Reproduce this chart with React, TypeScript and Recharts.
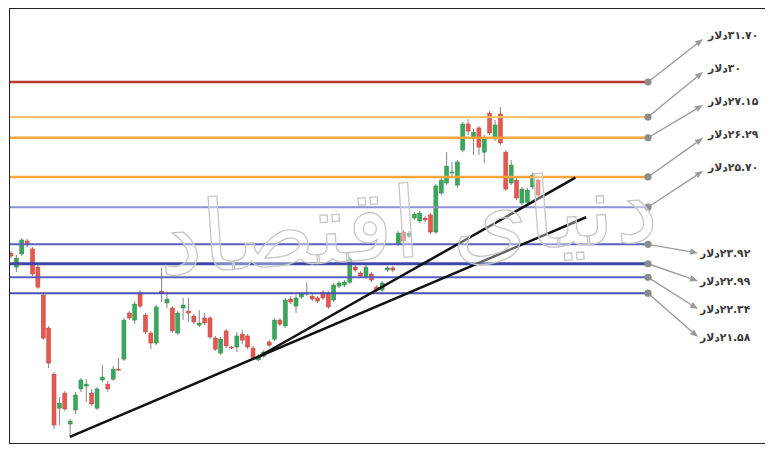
import React from "react";
import { ComposedChart, Bar, XAxis, YAxis, ReferenceLine } from "recharts";

// daily candles, USD
const opens = [
  23.5, 22.83, 23.46, 24.08, 23.7, 22.83, 21.49, 19.91, 17.7, 16.07,
  16.79, 15.31, 15.98, 16.99, 17.13, 16.79, 16.07, 17.42, 17.22, 17.46,
  17.94, 18.42, 20.63, 20.29, 21.59, 20.53, 19.67, 19.19, 21.68, 21.11,
  20.87, 19.67, 20.87, 20.72, 20.48, 20.05, 20.39, 20.39, 19.43, 18.71,
  19.77, 19.0, 19.0, 19.62, 19.53, 18.95, 18.38, 18.57, 19.24, 19.38,
  20.29, 20.01, 21.3, 20.96, 21.4, 21.54, 21.44, 21.35, 21.63, 21.59,
  21.25, 21.92, 21.97, 22.11, 22.83, 22.55, 22.35, 22.5, 21.87, 21.73,
  22.69, 22.79, 23.94, 24.51, 24.32, 25.18, 25.04, 25.18, 25.33, 24.51,
  26.38, 26.86, 27.34, 26.76, 28.44, 29.69, 29.02, 29.5, 28.34, 30.21,
  28.97, 30.17, 28.34, 26.86, 27.0, 25.9, 25.94, 26.67, 27.0,
];
const highs = [
  23.6, 23.41, 24.22, 24.18, 23.79, 22.93, 21.59, 20.01, 17.8, 16.6,
  16.89, 15.55, 16.84, 17.51, 17.46, 16.99, 17.08, 18.14, 17.37, 18.09,
  18.47, 20.39, 20.72, 21.2, 21.73, 20.63, 19.77, 21.01, 22.79, 21.63,
  20.96, 20.72, 21.35, 21.35, 20.58, 20.77, 20.63, 20.48, 19.53, 19.48,
  19.86, 19.05, 19.72, 19.81, 19.62, 19.05, 18.66, 18.85, 19.33, 20.39,
  20.39, 21.35, 21.44, 21.49, 21.63, 22.11, 21.54, 21.44, 21.73, 21.68,
  22.07, 22.16, 22.21, 23.31, 22.93, 22.64, 22.93, 22.59, 21.97, 22.16,
  22.88, 22.88, 24.56, 24.61, 24.56, 25.47, 25.52, 25.28, 25.42, 26.81,
  27.1, 28.34, 27.87, 27.96, 29.78, 29.93, 29.45, 29.59, 29.16, 30.31,
  29.88, 30.5, 28.44, 27.96, 27.1, 26.67, 26.62, 27.34, 27.1,
];
const lows = [
  23.26, 22.59, 23.36, 23.79, 22.4, 21.78, 19.33, 17.99, 15.07, 15.26,
  15.93, 14.69, 15.79, 16.84, 16.36, 16.17, 15.98, 17.32, 16.84, 17.37,
  17.85, 18.33, 20.29, 20.1, 20.87, 19.62, 18.9, 19.09, 21.16, 20.87,
  19.67, 19.57, 20.29, 20.2, 20.1, 19.96, 20.05, 19.38, 18.81, 18.62,
  18.95, 18.9, 18.76, 19.14, 18.9, 18.38, 18.33, 18.47, 19.0, 19.29,
  20.01, 19.91, 21.06, 20.63, 21.3, 21.44, 21.2, 21.11, 21.25, 20.82,
  21.16, 21.83, 21.87, 22.02, 22.59, 22.31, 22.26, 22.11, 21.63, 21.63,
  22.59, 22.59, 23.84, 23.98, 24.22, 25.09, 24.94, 24.99, 24.41, 24.41,
  26.28, 26.76, 27.1, 26.62, 28.34, 29.16, 28.2, 28.2, 27.82, 29.16,
  28.87, 28.68, 26.48, 26.76, 26.04, 25.8, 25.85, 26.57, 26.19,
];
const closes = [
  23.36, 23.26, 24.13, 23.89, 22.5, 21.87, 19.43, 18.23, 15.26, 16.31,
  16.03, 15.45, 16.7, 17.42, 17.22, 16.27, 16.99, 17.56, 16.99, 17.94,
  17.9, 20.29, 20.39, 21.06, 20.96, 19.72, 19.19, 20.92, 21.59, 21.3,
  19.77, 20.63, 21.01, 20.63, 20.2, 20.15, 20.15, 19.48, 18.9, 19.38,
  19.05, 18.95, 19.53, 19.33, 19.0, 18.47, 18.57, 18.76, 19.09, 20.29,
  20.1, 21.25, 21.16, 21.35, 21.54, 21.59, 21.3, 21.2, 21.35, 20.92,
  21.97, 22.07, 22.11, 23.22, 22.69, 22.4, 22.83, 22.21, 21.73, 22.07,
  22.79, 22.69, 24.46, 24.08, 24.46, 25.37, 25.42, 25.09, 24.51, 26.72,
  27.0, 27.67, 27.39, 27.87, 29.69, 29.35, 29.3, 28.58, 28.97, 29.26,
  29.64, 28.78, 26.57, 27.72, 26.14, 26.57, 26.52, 27.24, 26.28,
];

// empty slots to the right of the last candle
const slotCount = 119;

const levels = [31.7, 30.02, 29.03, 27.15, 25.7, 23.92, 22.99, 22.34, 21.58];
const levelLabels = [
  "۳۱.۷۰دلار",
  "۳۰دلار",
  "۲۷.۱۵دلار",
  "۲۶.۲۹دلار",
  "۲۵.۷۰دلار",
  "۲۳.۹۲دلار",
  "۲۲.۹۹دلار",
  "۲۲.۳۴دلار",
  "۲۱.۵۸دلار",
];
const levelColors = ["#b83a2e", "#fdc06c", "#f9a43c", "#f9a43c", "#8e91d4", "#5a60bf", "#3e46a8", "#5a60bf", "#4a51b4"];
const levelWidths = [2.5, 2, 2.5, 2.5, 2, 2, 3, 2, 2];

// trend lines: [slot, price]
const trendLow = [[11, 14.69], [107, 25.22]];
const trendHigh = [[46, 18.52], [105, 27.12]];

const watermark = "دنیای اقتصاد";

const GREEN = "#3aa85c";
const GREEN_EDGE = "#2b8a48";
const RED = "#e4584f";
const RED_EDGE = "#c2433b";

const data = Array.from({ length: slotCount }, (_, i) =>
  i < opens.length
    ? { i, open: opens[i], high: highs[i], low: lows[i], close: closes[i], range: [lows[i], highs[i]] }
    : { i, range: null }
);

const Candle = (props: any) => {
  const { x, y, width, height, payload } = props;
  if (!payload || payload.open == null || !isFinite(y) || !isFinite(height)) return null;
  const { open, close, high, low } = payload;
  const top = Math.min(y, y + height);
  const h = Math.abs(height);
  const toY = (v: number) => top + ((high - v) / (high - low)) * h;
  const up = close >= open;
  const bodyTop = toY(Math.max(open, close));
  const bodyH = Math.max(1, toY(Math.min(open, close)) - bodyTop);
  const cx = x + width / 2;
  return (
    <g>
      <line x1={cx} x2={cx} y1={top} y2={top + h} stroke="#858585" strokeWidth={1} />
      <rect
        x={x}
        y={bodyTop}
        width={width}
        height={bodyH}
        fill={up ? GREEN : RED}
        stroke={up ? GREEN_EDGE : RED_EDGE}
        strokeWidth={0.5}
      />
    </g>
  );
};

// dot at the end of a level, arrow to its price tag
const levelTag = (k: number) => (props: any) => {
  const vb = props.viewBox;
  if (!vb) return null;
  const x0 = vb.x + vb.width;
  const y0 = vb.y;
  const upper = k < 5;
  const j = upper ? k : k - 5;
  const ty = upper ? 26 + 33 * j : 244 + 28 * j;
  const tx = upper ? 700 : 692;
  const ax = upper ? 695 : 690;
  const ay = upper ? ty + 4 : ty;
  const dx = ax - x0;
  const dy = ay - y0;
  const len = Math.sqrt(dx * dx + dy * dy);
  const ux = dx / len;
  const uy = dy / len;
  const hl = 8;
  const hw = 3.2;
  const bx = ax - ux * hl;
  const by = ay - uy * hl;
  const head = `${ax},${ay} ${bx - uy * hw},${by + ux * hw} ${bx + uy * hw},${by - ux * hw}`;
  return (
    <g>
      <line x1={x0} y1={y0} x2={bx} y2={by} stroke="#9b9b9b" strokeWidth={1.4} />
      <polygon points={head} fill="#9b9b9b" />
      <circle cx={x0} cy={y0} r={3.6} fill="#8c8c8c" />
      <text
        x={tx}
        y={ty}
        dy="0.36em"
        fontFamily="DejaVu Sans"
        fontSize={10.8}
        fontWeight="bold"
        fill="#3a3a3a"
      >
        {"\u200F" + levelLabels[k]}
      </text>
    </g>
  );
};

export default function App() {
  return (
    <div
      style={{
        position: "relative",
        width: 757,
        height: 436,
        marginLeft: 1,
        border: "1px solid #222",
        boxSizing: "border-box",
        overflow: "hidden",
        background: "#fff",
      }}
    >
      <div style={{ position: "absolute", left: -2, top: 0 }}>
        <ComposedChart width={757} height={434} data={data} margin={{ top: 0, right: 117, bottom: 0, left: 0 }}>
          <XAxis dataKey="i" type="category" hide />
          <YAxis type="number" domain={[14.4, 35.2]} allowDataOverflow hide />
          {levels.map((v, k) => (
            <ReferenceLine
              key={k}
              y={v}
              stroke={levelColors[k]}
              strokeWidth={levelWidths[k]}
              label={levelTag(k)}
            />
          ))}
          <Bar dataKey="range" barSize={4} shape={Candle} isAnimationActive={false} />
          <ReferenceLine
            segment={trendLow.map(([x, y]) => ({ x, y }))}
            stroke="#111"
            strokeWidth={2.5}
            ifOverflow="visible"
          />
          <ReferenceLine
            segment={trendHigh.map(([x, y]) => ({ x, y }))}
            stroke="#111"
            strokeWidth={2.5}
            ifOverflow="visible"
          />
        </ComposedChart>
        <svg
          width={757}
          height={434}
          style={{ position: "absolute", left: 0, top: 0, pointerEvents: "none" }}
        >
          <text
            x={402}
            y={248}
            textAnchor="middle"
            fontFamily="DejaVu Sans"
            fontSize={98}
            fill="#ffffff"
            fillOpacity={0.35}
            stroke="#c8c8c8"
            strokeWidth={1.3}
            transform="rotate(-4 402 248)"
          >
            {watermark}
          </text>
        </svg>
      </div>
    </div>
  );
}
